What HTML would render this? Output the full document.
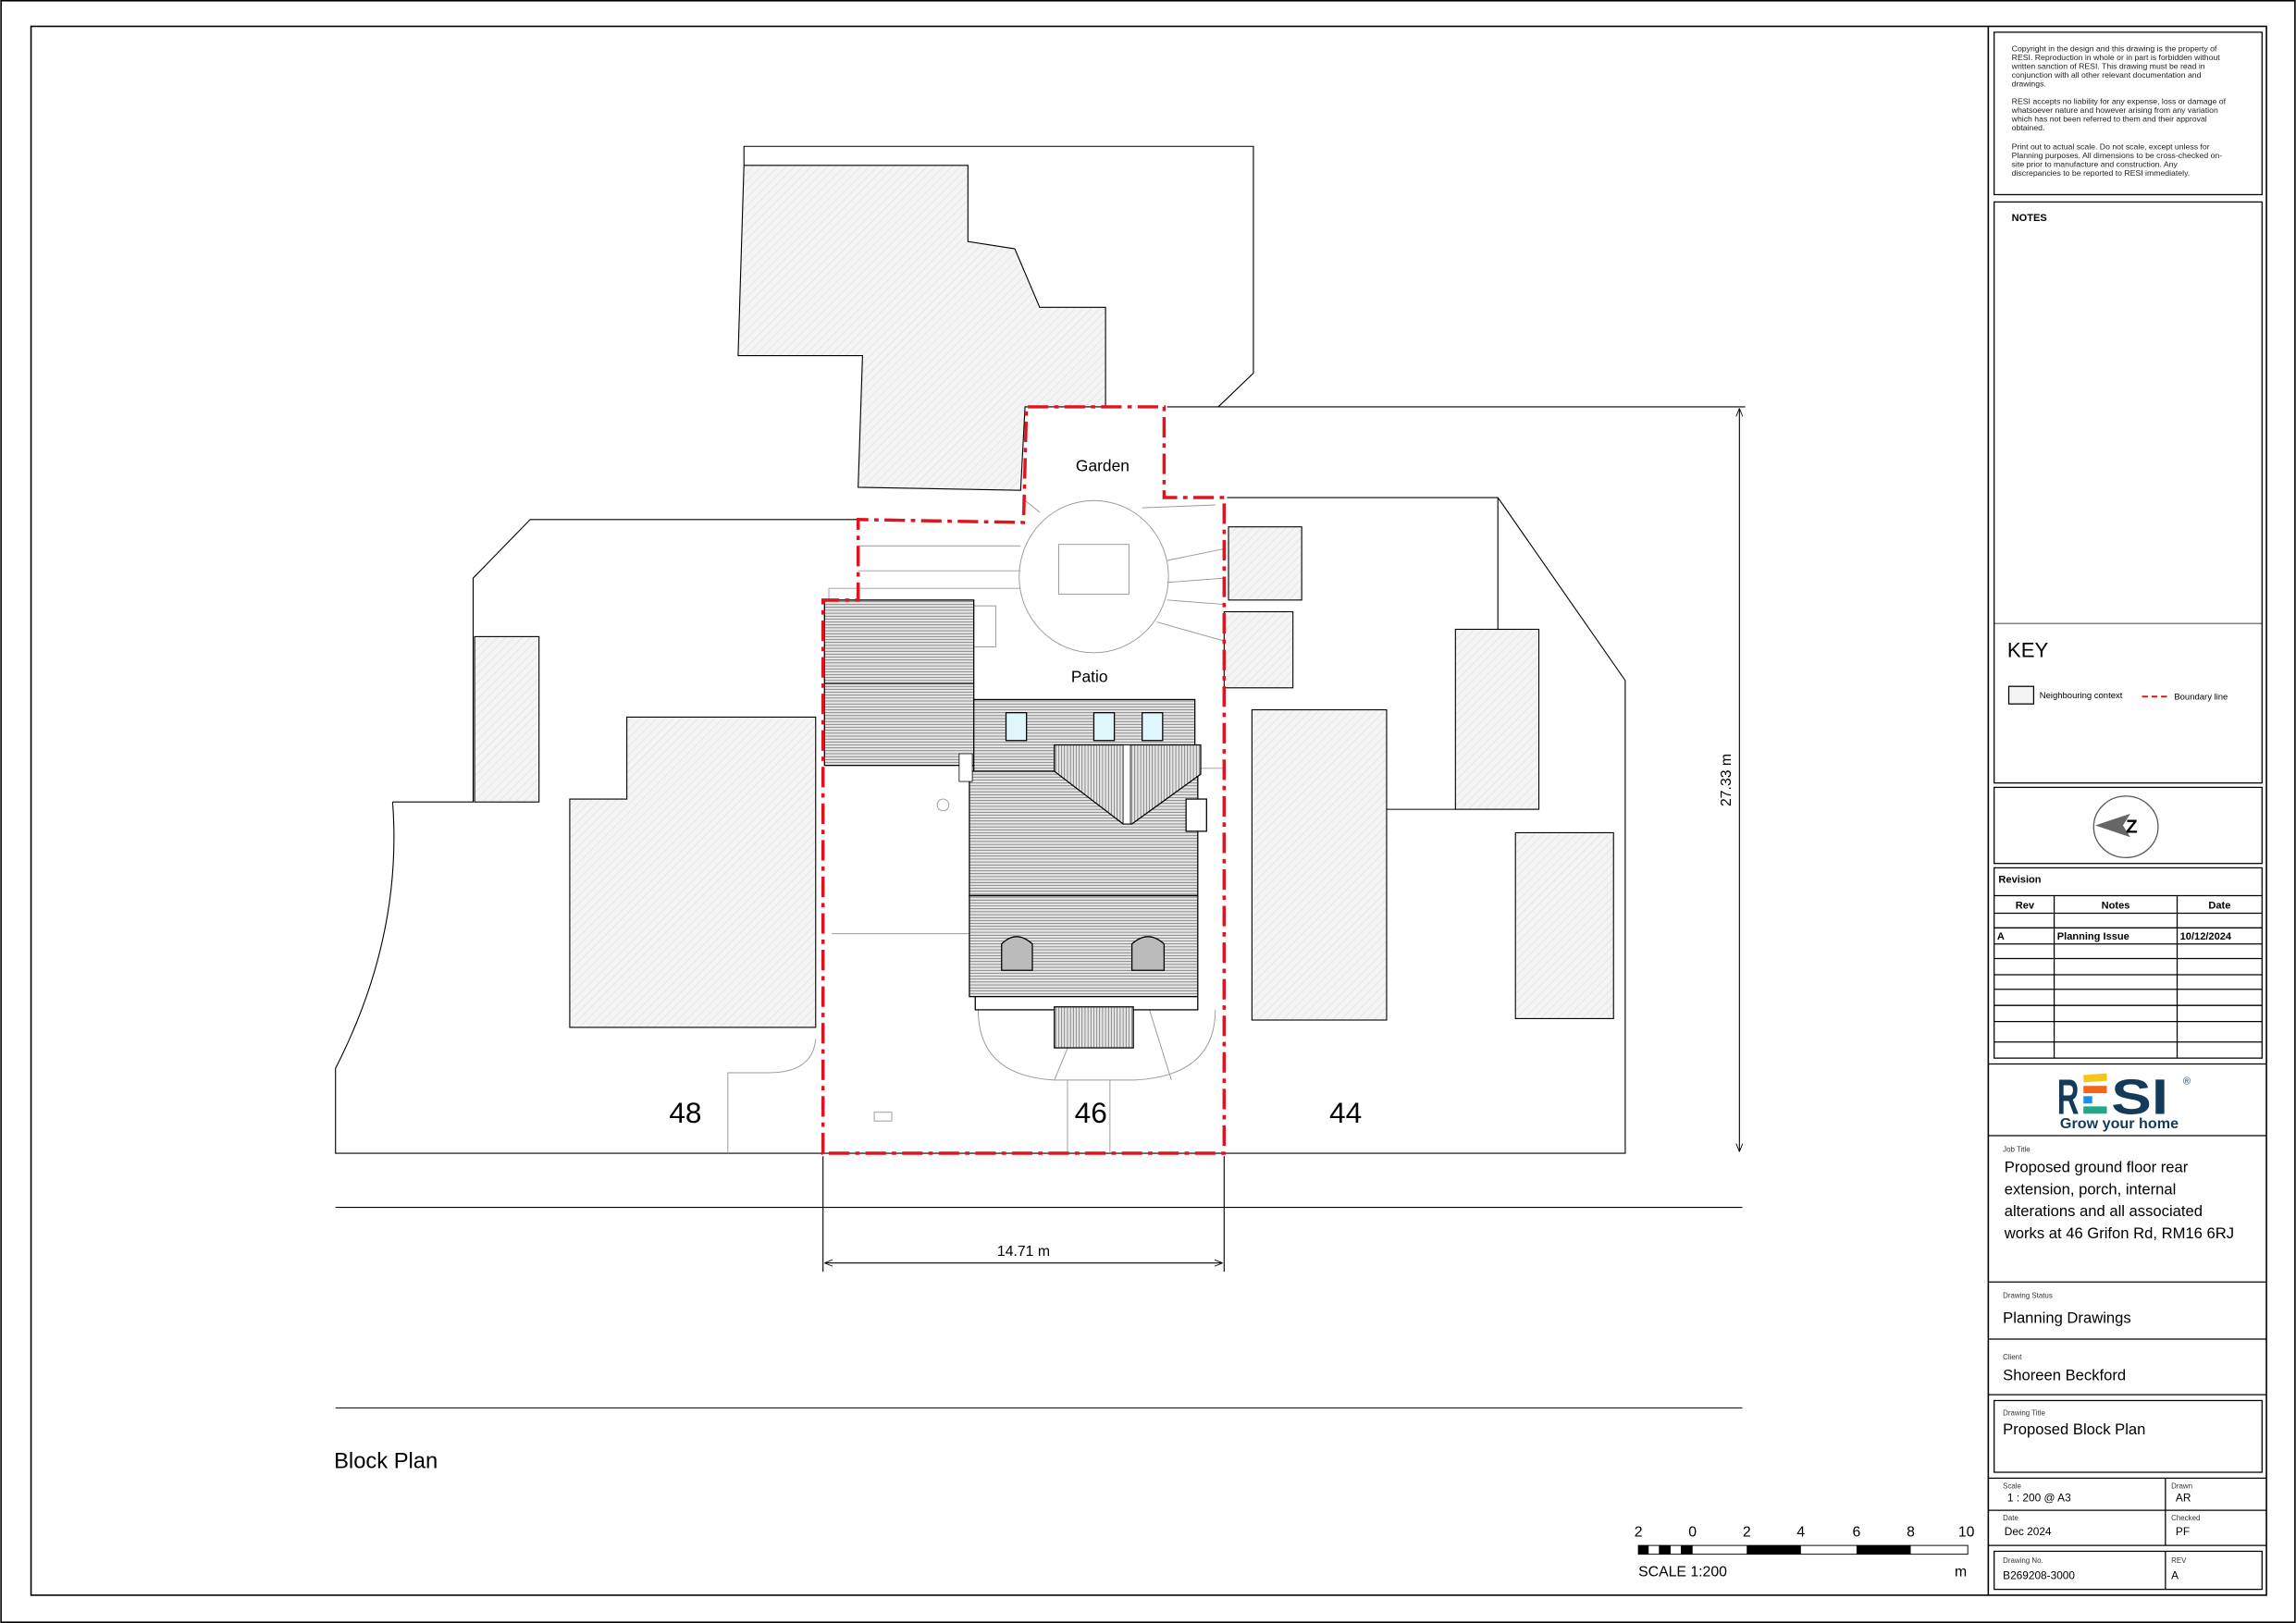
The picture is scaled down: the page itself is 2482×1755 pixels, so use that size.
<!DOCTYPE html>
<html><head><meta charset="utf-8"><style>
html,body{margin:0;padding:0;background:#fff;}
svg{display:block;}
text{font-family:"Liberation Sans","DejaVu Sans",sans-serif;}
</style></head><body>
<svg width="2482" height="1755" viewBox="0 0 1568 1109" xmlns="http://www.w3.org/2000/svg">
<defs>
<pattern id="h" width="4" height="4" patternUnits="userSpaceOnUse" patternTransform="rotate(45)">
<rect width="4" height="4" fill="#f4f4f4"/><line x1="0" y1="0" x2="0" y2="4" stroke="#d8d8d8" stroke-width="0.6"/></pattern>
<pattern id="hz" width="4" height="2" patternUnits="userSpaceOnUse">
<rect width="4" height="2" fill="#e6e6e6"/><line x1="0" y1="1" x2="4" y2="1" stroke="#555" stroke-width="0.4"/></pattern>
<pattern id="vt" width="2" height="4" patternUnits="userSpaceOnUse">
<rect width="2" height="4" fill="#e6e6e6"/><line x1="1" y1="0" x2="1" y2="4" stroke="#555" stroke-width="0.4"/></pattern>
<marker id="ar" viewBox="0 0 10 10" refX="10" refY="5" markerWidth="8" markerHeight="8" orient="auto-start-reverse"><path d="M0,1 L10,5 L0,9" fill="none" stroke="#000" stroke-width="1"/></marker>
</defs>
<rect x="0.5" y="0.5" width="1567" height="1108" fill="#fff" stroke="#000" stroke-width="1"/>
<rect x="21" y="18" width="1527" height="1072" fill="none" stroke="#000" stroke-width="1"/>
<line x1="1358" y1="18" x2="1358" y2="1090" stroke="#000"/>

<g fill="none" stroke="#000" stroke-width="0.7">
<polyline points="508,113 508,100 856,100 856,255 832,278"/>
<line x1="797" y1="278" x2="1192" y2="278"/>
<polyline points="587,355 362,355 323,395 323,548 268,548"/>
<path d="M268,548 Q275,640 229,730 L229,788 L1110,788 L1110,465 L1023,340 L838,340"/>
<line x1="1023" y1="340" x2="1023" y2="430"/>
<polyline points="947,553 994,553"/>
</g>
<g fill="url(#h)" stroke="#000" stroke-width="0.7">
<polygon points="508,113 661,113 661,165 693,170 710,210 755,210 755,278 700,278 697,335 586,333 589,243 504,243"/>
<rect x="324" y="435" width="44" height="113"/>
<polygon points="428,490 557,490 557,702 389,702 389,546 428,546"/>
<rect x="855" y="485" width="92" height="212"/>
<rect x="994" y="430" width="57" height="123"/>
<rect x="1035" y="569" width="67" height="127"/>
<rect x="839" y="360" width="50" height="50"/>
<rect x="836" y="418" width="47" height="52"/>
</g>
<g fill="none" stroke="#999" stroke-width="0.6">
<ellipse cx="747" cy="394" rx="51" ry="52"/>
<rect x="723" y="372" width="48" height="34"/>
<line x1="586" y1="373" x2="697" y2="373"/><line x1="586" y1="390" x2="697" y2="390"/>
<polyline points="566,410 566,402 697,402"/><polyline points="665,414 680,414 680,442 665,442"/>
<line x1="710" y1="350" x2="700" y2="342"/><line x1="780" y1="347" x2="830" y2="345"/>
<line x1="797" y1="383" x2="836" y2="375"/><line x1="797" y1="398" x2="836" y2="395"/><line x1="797" y1="410" x2="836" y2="413"/><line x1="790" y1="425" x2="836" y2="438"/>
<line x1="568" y1="638" x2="662" y2="638"/>
<path d="M668,690 Q668,735 720,738 L775,738 Q830,735 830,690"/>
<line x1="729" y1="738" x2="729" y2="788"/><line x1="758" y1="738" x2="758" y2="788"/>
<line x1="720" y1="738" x2="740" y2="690"/><line x1="785" y1="690" x2="800" y2="738"/>
<path d="M557,710 Q555,733 525,733 L497,733 L497,788"/>
<rect x="597" y="760" width="12" height="6"/>
<circle cx="644" cy="550" r="4"/>
<line x1="818" y1="525" x2="836" y2="525"/>
</g>
<g stroke="#000" stroke-width="0.8">
<rect x="563" y="410" width="102" height="113" fill="url(#hz)"/>
<line x1="563" y1="467" x2="665" y2="467"/>
<rect x="665" y="478" width="151" height="49" fill="url(#hz)"/>
<rect x="662" y="527" width="156" height="85" fill="url(#hz)"/>
<rect x="662" y="612" width="156" height="69" fill="url(#hz)"/>
<polygon points="720,509 820,509 820,529 773,563 767,563 720,527" fill="url(#vt)"/>
<rect x="767" y="509" width="5" height="54" fill="#fff" stroke-width="0.5"/>
<rect x="666" y="681" width="152" height="9" fill="#fff"/>
<rect x="720" y="688" width="54" height="28" fill="url(#vt)"/>
<path d="M684,660 L684,645 Q694,635 705,645 L705,663 L684,663Z" fill="#bbb"/>
<path d="M773,660 L773,645 Q784,635 795,645 L795,663 L773,663Z" fill="#bbb"/>
<rect x="687" y="487" width="14" height="19" fill="#dff6fb"/>
<rect x="747" y="487" width="14" height="19" fill="#dff6fb"/>
<rect x="780" y="487" width="14" height="19" fill="#dff6fb"/>
<rect x="810" y="546" width="14" height="22" fill="#fff"/>
<rect x="655" y="515" width="9" height="19" fill="#fff" stroke-width="0.5"/>
</g>
<polygon points="562,788 562,410 586,410 586,355 699,357 701,278 795,278 795,340 836,340 836,788" fill="none" stroke="#e0141e" stroke-width="2.2" stroke-dasharray="14,4,3,4"/>
<text x="753" y="322" font-size="11" text-anchor="middle">Garden</text>
<text x="744" y="466" font-size="11" text-anchor="middle">Patio</text>
<text x="468" y="767" font-size="20" text-anchor="middle">48</text>
<text x="745" y="767" font-size="20" text-anchor="middle">46</text>
<text x="919" y="767" font-size="20" text-anchor="middle">44</text>
<g stroke="#000" stroke-width="0.7" fill="none">
<line x1="1188" y1="279" x2="1188" y2="787" marker-start="url(#ar)" marker-end="url(#ar)"/>
<line x1="563" y1="863" x2="835" y2="863" marker-start="url(#ar)" marker-end="url(#ar)"/>
<line x1="562" y1="790" x2="562" y2="869"/><line x1="836" y1="790" x2="836" y2="869"/>
<line x1="229" y1="825" x2="1190" y2="825"/><line x1="229" y1="962" x2="1190" y2="962"/>
</g>
<text x="699" y="858" font-size="10" text-anchor="middle">14.71 m</text>
<text transform="translate(1182,533) rotate(-90)" font-size="10" text-anchor="middle">27.33 m</text>
<text x="228" y="1003" font-size="15">Block Plan</text>
<rect x="1119" y="1056" width="225" height="6" fill="#fff" stroke="#000" stroke-width="0.6"/>
<g fill="#000"><rect x="1119" y="1056" width="7" height="6"/><rect x="1133" y="1056" width="8" height="6"/><rect x="1148" y="1056" width="8" height="6"/><rect x="1193" y="1056" width="37" height="6"/><rect x="1268" y="1056" width="37" height="6"/></g>
<g font-size="10" text-anchor="middle"><text x="1119" y="1050">2</text><text x="1156" y="1050">0</text><text x="1193" y="1050">2</text><text x="1230" y="1050">4</text><text x="1268" y="1050">6</text><text x="1305" y="1050">8</text><text x="1343" y="1050">10</text></g>
<text x="1119" y="1077" font-size="10">SCALE 1:200</text><text x="1335" y="1077" font-size="10">m</text>

<g fill="none" stroke="#000" stroke-width="0.8">
<rect x="1362" y="22" width="183" height="111"/>
<rect x="1362" y="138" width="183" height="397"/>
<line x1="1362" y1="426" x2="1545" y2="426" stroke-width="0.5"/>
<rect x="1362" y="538" width="183" height="52"/>
<rect x="1362" y="593" width="183" height="130"/>
<line x1="1362" y1="612" x2="1545" y2="612"/><line x1="1362" y1="624" x2="1545" y2="624"/>
<line x1="1362" y1="634" x2="1545" y2="634"/><line x1="1362" y1="645" x2="1545" y2="645"/>
<line x1="1362" y1="655" x2="1545" y2="655"/><line x1="1362" y1="666" x2="1545" y2="666"/><line x1="1362" y1="676" x2="1545" y2="676"/><line x1="1362" y1="687" x2="1545" y2="687"/><line x1="1362" y1="698" x2="1545" y2="698"/><line x1="1362" y1="712" x2="1545" y2="712"/>
<line x1="1403" y1="612" x2="1403" y2="723"/><line x1="1487" y1="612" x2="1487" y2="723"/>
<line x1="1358" y1="727" x2="1548" y2="727"/><line x1="1358" y1="776" x2="1548" y2="776"/>
<line x1="1358" y1="876" x2="1548" y2="876"/><line x1="1358" y1="915" x2="1548" y2="915"/><line x1="1358" y1="953" x2="1548" y2="953"/>
<rect x="1362" y="957" width="183" height="49"/>
<line x1="1358" y1="1010" x2="1548" y2="1010"/><line x1="1358" y1="1032" x2="1548" y2="1032"/><line x1="1358" y1="1056" x2="1548" y2="1056"/>
<line x1="1479" y1="1010" x2="1479" y2="1056"/>
<rect x="1362" y="1060" width="183" height="26"/><line x1="1479" y1="1060" x2="1479" y2="1086"/>
<rect x="1372" y="469" width="17" height="12" fill="#f4f4f4"/>
<ellipse cx="1452" cy="565" rx="22" ry="21" stroke="#555"/>
</g>
<line x1="1463" y1="476" x2="1482" y2="476" stroke="#e0141e" stroke-width="1.3" stroke-dasharray="4,2.5"/>
<path d="M1431,564 L1455,556 L1450,564 L1455,572Z" fill="#666"/>
<text x="1456" y="569" font-size="13" font-weight="bold" text-anchor="middle">Z</text>
<g font-size="5.5" fill="#222">
<text x="1374" y="35">Copyright in the design and this drawing is the property of</text>
<text x="1374" y="41">RESI. Reproduction in whole or in part is forbidden without</text>
<text x="1374" y="47">written sanction of RESI. This drawing must be read in</text>
<text x="1374" y="53">conjunction with all other relevant documentation and</text>
<text x="1374" y="59">drawings.</text>
<text x="1374" y="71">RESI accepts no liability for any expense, loss or damage of</text>
<text x="1374" y="77">whatsoever nature and however arising from any variation</text>
<text x="1374" y="83">which has not been referred to them and their approval</text>
<text x="1374" y="89">obtained.</text>
<text x="1374" y="102">Print out to actual scale. Do not scale, except unless for</text>
<text x="1374" y="108">Planning purposes. All dimensions to be cross-checked on-</text>
<text x="1374" y="114">site prior to manufacture and construction. Any</text>
<text x="1374" y="120">discrepancies to be reported to RESI immediately.</text>
</g>
<text x="1374" y="151" font-size="7" font-weight="bold">NOTES</text>
<text x="1371" y="449" font-size="14">KEY</text>
<text x="1393" y="477" font-size="6">Neighbouring context</text>
<text x="1485" y="478" font-size="6">Boundary line</text>
<text x="1365" y="603" font-size="7" font-weight="bold">Revision</text>
<g font-size="7" font-weight="bold"><text x="1383" y="621" text-anchor="middle">Rev</text><text x="1445" y="621" text-anchor="middle">Notes</text><text x="1516" y="621" text-anchor="middle">Date</text>
<text x="1364" y="642">A</text><text x="1405" y="642">Planning Issue</text><text x="1489" y="642">10/12/2024</text></g>
<text x="1405" y="761" font-size="34" font-weight="bold" fill="#143a5a" textLength="15" lengthAdjust="spacingAndGlyphs">R</text>
<rect x="1423" y="734" width="16" height="5" fill="#f5c518" transform="rotate(-4 1431 736)"/>
<rect x="1423" y="742" width="16" height="5" fill="#f2661c"/>
<rect x="1423" y="749" width="6" height="5" fill="#1e8fe8"/>
<rect x="1423" y="756" width="16" height="5" fill="#20a88a"/>
<text x="1442" y="761" font-size="34" font-weight="bold" fill="#143a5a" textLength="39" lengthAdjust="spacingAndGlyphs">SI</text>
<text x="1491" y="741" font-size="7" fill="#143a5a">®</text>
<text x="1407" y="771" font-size="10" font-weight="bold" fill="#143a5a" textLength="81" lengthAdjust="spacingAndGlyphs">Grow your home</text>
<g font-size="5" fill="#333"><text x="1368" y="787">Job Title</text><text x="1368" y="887">Drawing Status</text><text x="1368" y="929">Client</text><text x="1368" y="967">Drawing Title</text><text x="1368" y="1017">Scale</text><text x="1483" y="1017">Drawn</text><text x="1368" y="1039">Date</text><text x="1483" y="1039">Checked</text><text x="1368" y="1068">Drawing No.</text><text x="1483" y="1068">REV</text></g>
<g font-size="10.5"><text x="1369" y="801">Proposed ground floor rear</text><text x="1369" y="816">extension, porch, internal</text><text x="1369" y="831">alterations and all associated</text><text x="1369" y="846">works at 46 Grifon Rd, RM16 6RJ</text>
<text x="1368" y="904">Planning Drawings</text><text x="1368" y="943">Shoreen Beckford</text><text x="1368" y="980">Proposed Block Plan</text></g>
<g font-size="7.5"><text x="1371" y="1026">1 : 200 @ A3</text><text x="1486" y="1026">AR</text><text x="1369" y="1049">Dec 2024</text><text x="1486" y="1049">PF</text><text x="1368" y="1079">B269208-3000</text><text x="1483" y="1079">A</text></g>
</svg>
</body></html>
